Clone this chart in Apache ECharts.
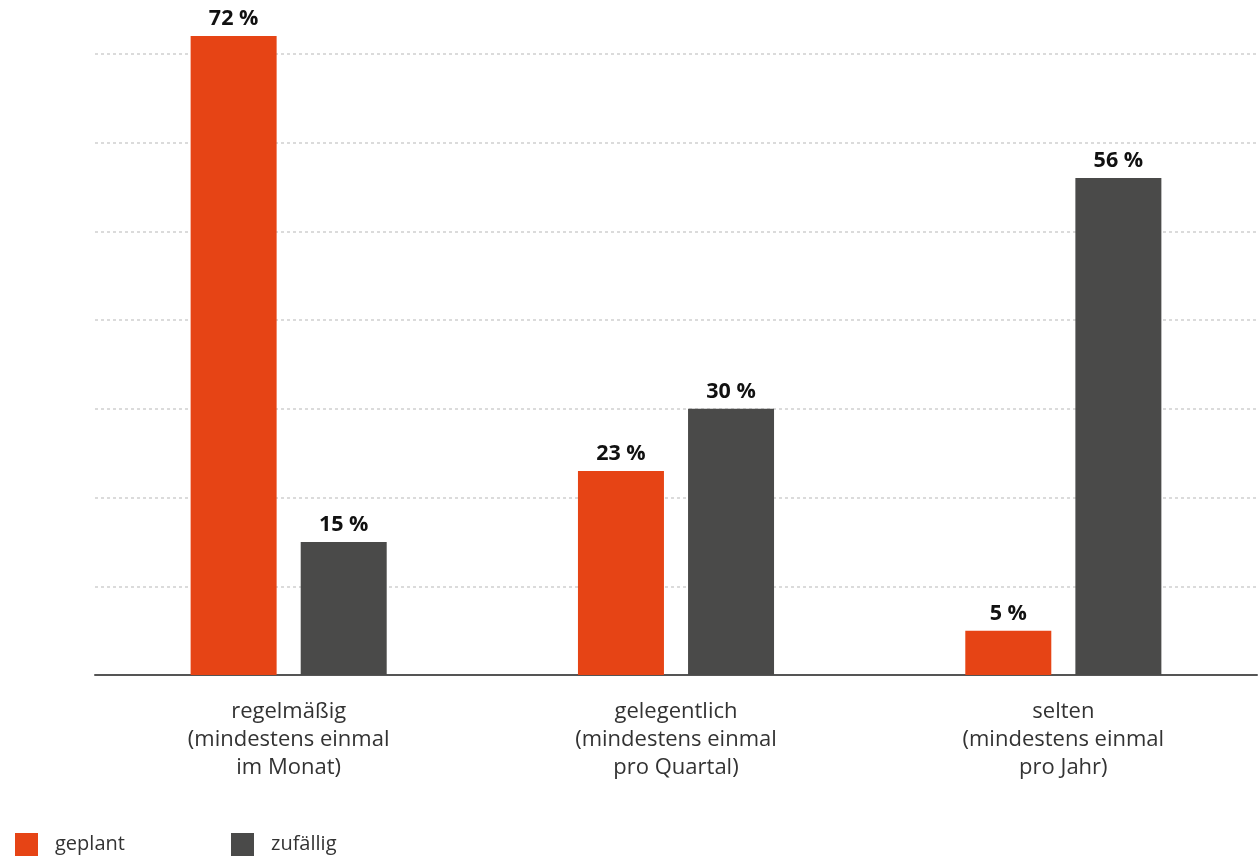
<!DOCTYPE html>
<html>
<head>
<meta charset="utf-8">
<script src="https://cdn.jsdelivr.net/npm/echarts@6/dist/echarts.min.js"></script>
<style>
  html, body { margin: 0; padding: 0; background: #ffffff; }
  #chart { width: 1259px; height: 857px; }
</style>
</head>
<body>
<div id="chart"></div>
<script>
// Häufigkeit der Nutzung: geplant vs. zufällig (Anteile in %)
const categories = [
  'regelmäßig\n(mindestens einmal\nim Monat)',
  'gelegentlich\n(mindestens einmal\npro Quartal)',
  'selten\n(mindestens einmal\npro Jahr)'
];
const seriesNames = ['geplant', 'zufällig'];
const geplant = [72, 23, 5];
const zufaellig = [15, 30, 56];

const colors = ['#E64415', '#4A4A49'];
const fontFamily = '"Open Sans", Lato, sans-serif';

const valueLabel = {
  show: true,
  position: 'top',
  distance: 6,
  formatter: p => p.value + ' %',
  fontFamily: fontFamily,
  fontWeight: 'bold',
  fontSize: 21.5,
  color: '#111111'
};

const legendText = { fontFamily: fontFamily, fontSize: 20, color: '#333333', padding: [0, 0, 0, 12] };

const chart = echarts.init(document.getElementById('chart'));
chart.setOption({
  animation: false,
  backgroundColor: '#ffffff',
  grid: { left: 95, right: 2, top: 36, bottom: 182, containLabel: false },
  legend: [
    {
      data: [seriesNames[0]],
      left: 10, top: 828,
      itemWidth: 23, itemHeight: 23, icon: 'rect',
      textStyle: legendText
    },
    {
      data: [seriesNames[1]],
      left: 226, top: 828,
      itemWidth: 23, itemHeight: 23, icon: 'rect',
      textStyle: legendText
    }
  ],
  xAxis: {
    type: 'category',
    data: categories,
    axisLine: { show: true, lineStyle: { color: '#555555', width: 2 } },
    axisTick: { show: false },
    axisLabel: {
      fontFamily: fontFamily,
      fontSize: 22,
      lineHeight: 28,
      color: '#333333',
      margin: 23,
      interval: 0
    }
  },
  yAxis: {
    type: 'value',
    min: 0,
    max: 72,
    interval: 10,
    axisLine: { show: false },
    axisTick: { show: false },
    axisLabel: { show: false },
    splitLine: {
      show: true,
      showMinLine: false,
      showMaxLine: false,
      lineStyle: { color: '#d0d0d0', type: [3, 3], width: 1.5 }
    }
  },
  series: [
    {
      name: seriesNames[0],
      type: 'bar',
      data: geplant,
      barWidth: 86,
      barGap: '28%',
      itemStyle: { color: colors[0] },
      label: valueLabel
    },
    {
      name: seriesNames[1],
      type: 'bar',
      data: zufaellig,
      barWidth: 86,
      barGap: '28%',
      itemStyle: { color: colors[1] },
      label: valueLabel
    }
  ]
});
</script>
</body>
</html>
